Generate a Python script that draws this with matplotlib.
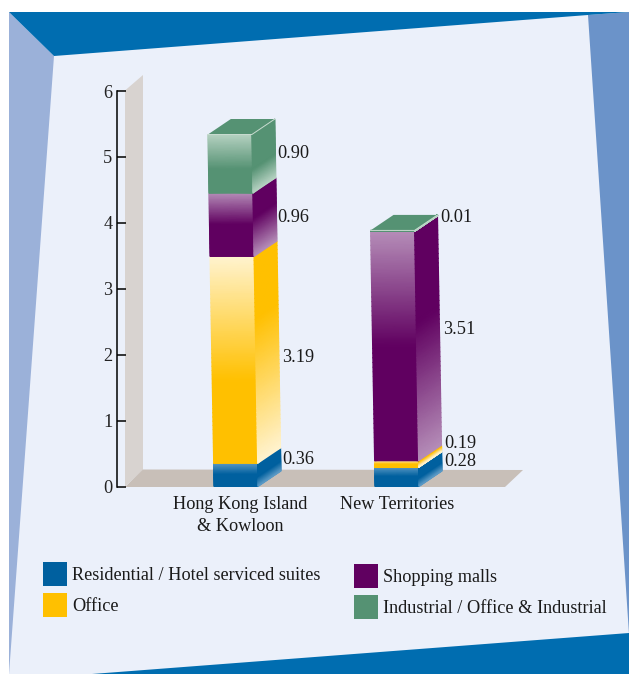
import numpy as np
import matplotlib
matplotlib.use("Agg")
import matplotlib.pyplot as plt
from matplotlib.colors import LinearSegmentedColormap
from matplotlib.patches import Polygon, Rectangle

plt.rcParams["font.family"] = ["Liberation Serif", "DejaVu Serif"]

W, H = 629, 674

# data
categories = ["Hong Kong Island\n& Kowloon", "New Territories"]
series = ["Residential / Hotel serviced suites", "Office", "Shopping malls",
          "Industrial / Office & Industrial"]
residential = [0.36, 0.28]
office = [3.19, 0.19]
malls = [0.96, 3.51]
industrial = [0.90, 0.01]
y_ticks = [0, 1, 2, 3, 4, 5, 6]

# heights as the bars are actually drawn, read against the axis
# (the picture does not keep strictly to the printed numbers)
drawn_residential = [0.35, 0.29]
drawn_office = [3.14, 0.10]
drawn_malls = [0.96, 3.48]
drawn_industrial = [0.89, 0.015]

# colours: solid, light end of the gradient, where the gradient stops
BLUE = "#00609F"
COLORS = [BLUE, "#FFC000", "#600060", "#559273"]
LIGHTS = ["#5B9AC6", "#FFF3CF", "#B58DB8", "#B6D2C2"]
FRONT_STOP = [0.5, 0.6, 0.5, 0.6]
SIDE_STOP = [0.6, 0.3, 0.4, 0.6]
TOP_GREEN = "#559273"
FS = 13.15

# layout, pixels
PX_CAT = 161.0      # distance of the two bars
PX_UNIT = 65.9      # axis scale
X0 = 236.0          # first bar centre
AX_L, AX_R, AX_T, AX_B = 116.5, 540.0, 91.0, 486.5
BAR_W = 44 / PX_CAT
SLANT = 1.15 / PX_CAT       # bars lean left going up
DX, DY = 23 / PX_CAT, 15.5 / PX_UNIT

fig = plt.figure(figsize=(W / 100, H / 100), dpi=100, facecolor="white")

# backdrop in pixel coordinates
bg = fig.add_axes([0, 0, 1, 1])
bg.set_xlim(0, W)
bg.set_ylim(H, 0)
bg.axis("off")
bg.add_patch(Polygon([(9, 12), (629, 12), (629, 674), (9, 674)], fc="#EBF0FA", ec="none"))
bg.add_patch(Polygon([(9, 12), (54, 56), (9, 674)], fc="#9BB1D9", ec="none"))
bg.add_patch(Polygon([(588, 15), (629, 12), (629, 634)], fc="#6B93C9", ec="none"))
bg.add_patch(Polygon([(9, 12), (629, 12), (588, 15), (54, 56)], fc="#006DB0", ec="none"))
bg.add_patch(Polygon([(92, 674), (629, 633), (629, 674)], fc="#006DB0", ec="none"))
# wall and floor
bg.add_patch(Polygon([(125, 486.5), (125, 90.5), (143, 75), (143, 470)], fc="#D8D3D0", ec="none"))
bg.add_patch(Polygon([(125, 487), (143, 469.5), (523, 470), (505, 487)], fc="#C8BFB8", ec="none"))

# legend
legend_pos = [(43, 562), (43, 593), (354, 564), (354, 595)]
for (lx, ly), name, col in zip(legend_pos, series, COLORS):
    bg.add_patch(Rectangle((lx, ly), 24, 24, fc=col, ec="none"))
    bg.text(lx + 29, ly + 13.5, name, fontsize=FS, color="#1a1a1a", ha="left", va="center")

ax = fig.add_axes([AX_L / W, 1 - AX_B / H, (AX_R - AX_L) / W, (AX_B - AX_T) / H])
ax.patch.set_alpha(0)
ax.set_xlim((AX_L - X0) / PX_CAT, (AX_R - X0) / PX_CAT)
ax.set_ylim(0, 6)
for s in ["top", "right", "bottom"]:
    ax.spines[s].set_visible(False)
ax.spines["left"].set_linewidth(1.1)
ax.set_yticks(y_ticks)
ax.tick_params(axis="y", direction="in", length=6.5, width=1.1, pad=3, labelsize=FS,
               labelcolor="#222222")
ax.set_xticks([0.025, 1.0])
ax.set_xticklabels(categories, fontsize=FS, color="#1a1a1a", linespacing=1.45)
ax.tick_params(axis="x", length=0, pad=6.5)


def shade(xl, xr, y_left, y_right, first, last, stop, flip):
    # gradient face, row 0 at the top
    t = np.linspace(0, 1, 50)
    X = np.column_stack([xl(t), xr(t)])
    Y = np.column_stack([y_left(t), y_right(t)])
    if flip:
        stops = [(0, first), (stop, first), (1, last)]
    else:
        stops = [(0, first), (stop, last), (1, last)]
    cmap = LinearSegmentedColormap.from_list("face", stops)
    C = np.column_stack([t, t])
    ax.pcolormesh(X, Y, C, cmap=cmap, vmin=0, vmax=1, shading="gouraud", zorder=3,
                  clip_on=False)


def draw_bar(i, stack):
    base = 0.0
    for k, v in enumerate(stack):
        lo, hi = base, base + v
        y = lambda t, lo=lo, hi=hi: hi - t * (hi - lo)
        left = lambda t, y=y: i - BAR_W / 2 - SLANT * y(t)
        right = lambda t, y=y: i + BAR_W / 2 - SLANT * y(t)
        back = lambda t, right=right: right(t) + DX
        shade(left, right, y, y, LIGHTS[k], COLORS[k], FRONT_STOP[k], False)
        shade(right, back, y, lambda t, y=y: y(t) + DY, COLORS[k], LIGHTS[k], SIDE_STOP[k], True)
        base += v
    top = base
    xl = i - BAR_W / 2 - SLANT * top
    xr = i + BAR_W / 2 - SLANT * top
    ax.add_patch(Polygon([(xl, top), (xr, top), (xr + DX, top + DY), (xl + DX, top + DY)],
                         fc=TOP_GREEN, ec="none", zorder=4, clip_on=False))
    ax.plot([xl, xr, xr + DX], [top, top, top + DY], color="#C8DCD0", lw=0.7, zorder=5,
            clip_on=False)


for i in range(len(categories)):
    draw_bar(i, [drawn_residential[i], drawn_office[i], drawn_malls[i], drawn_industrial[i]])

# value labels, pixel positions
label_pos = {
    (0, 0): (282, 459), (0, 1): (282, 358), (0, 2): (277, 218), (0, 3): (277, 153),
    (1, 0): (444, 461), (1, 1): (444, 444), (1, 2): (443, 330), (1, 3): (440, 218),
}
for k, vals in enumerate([residential, office, malls, industrial]):
    for i, v in enumerate(vals):
        px, py = label_pos[(i, k)]
        bg.text(px, py, f"{v:.2f}", fontsize=FS, color="#1a1a1a", ha="left", va="center")

fig.savefig("out.png", dpi=100, facecolor="white")
